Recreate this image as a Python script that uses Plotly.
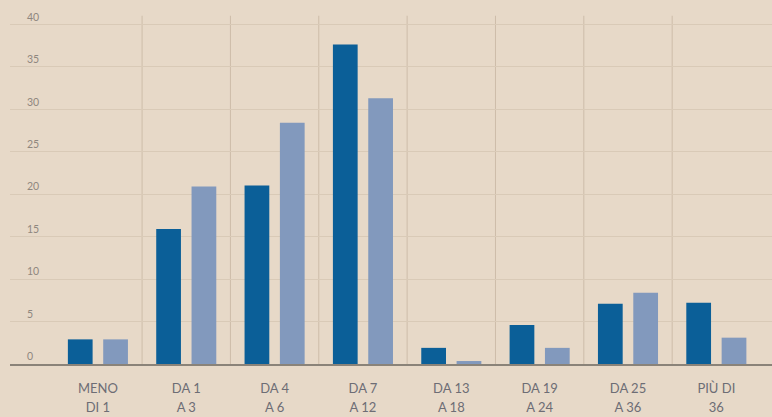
import plotly.graph_objects as go

categories_line1 = ["MENO", "DA 1", "DA 4", "DA 7", "DA 13", "DA 19", "DA 25", "PIÙ DI"]
categories_line2 = ["DI 1", "A 3", "A 6", "A 12", "A 18", "A 24", "A 36", "36"]
series_dark = [2.9, 15.9, 21.0, 37.6, 1.9, 4.6, 7.1, 7.2]
series_light = [2.9, 20.9, 28.4, 31.3, 0.35, 1.9, 8.4, 3.1]
y_ticks = [0, 5, 10, 15, 20, 25, 30, 35, 40]

idx = list(range(len(categories_line1)))

BG = "#e7d9c8"
DARK = "#0b5f98"
LIGHT = "#8299bd"

fig = go.Figure()
fig.add_trace(go.Bar(x=idx, y=series_dark, width=0.28, offset=-0.34,
                     marker=dict(color=DARK, line=dict(width=0)), showlegend=False))
fig.add_trace(go.Bar(x=idx, y=series_light, width=0.28, offset=0.06,
                     marker=dict(color=LIGHT, line=dict(width=0)), showlegend=False))

# category separators
for i in idx[:-1]:
    fig.add_shape(type="line", x0=i + 0.5, x1=i + 0.5, y0=0, y1=41,
                  xref="x", yref="y", line=dict(color="#cdbda9", width=1), layer="below")

fig.update_layout(
    width=772, height=417,
    margin=dict(l=10, r=0, t=3, b=53),
    paper_bgcolor=BG, plot_bgcolor=BG,
    barmode="overlay",
    font=dict(family="Lato, Noto Sans, sans-serif"),
    xaxis=dict(range=[-0.995, 7.63], tickmode="array", tickvals=idx, ticktext=categories_line1,
               showgrid=False, zeroline=False, showline=True, linecolor="#8a8379", linewidth=1.5,
               ticks="", ticklabelstandoff=12,
               tickfont=dict(size=13, color="#6d6d75")),
    xaxis2=dict(range=[-0.995, 7.63], overlaying="x", side="bottom", anchor="y",
                tickmode="array", tickvals=idx, ticktext=categories_line2,
                showgrid=False, zeroline=False, showline=False, ticks="", ticklabelstandoff=34,
                tickfont=dict(size=13, color="#6d6d75")),
    yaxis=dict(range=[0, 42.5], tickmode="array", tickvals=y_ticks,
               ticktext=[str(v) for v in y_ticks],
               showgrid=True, gridcolor="#d9cab7", gridwidth=1, zeroline=False,
               ticks="", ticklabelposition="inside top", ticklabelstandoff=14,
               tickfont=dict(size=10.5, color="#8f877f")),
)
# invisible trace to activate xaxis2
fig.add_trace(go.Scatter(x=[0], y=[0], xaxis="x2", mode="markers",
                         marker=dict(opacity=0), showlegend=False, hoverinfo="skip"))

fig.write_html("out.html")
